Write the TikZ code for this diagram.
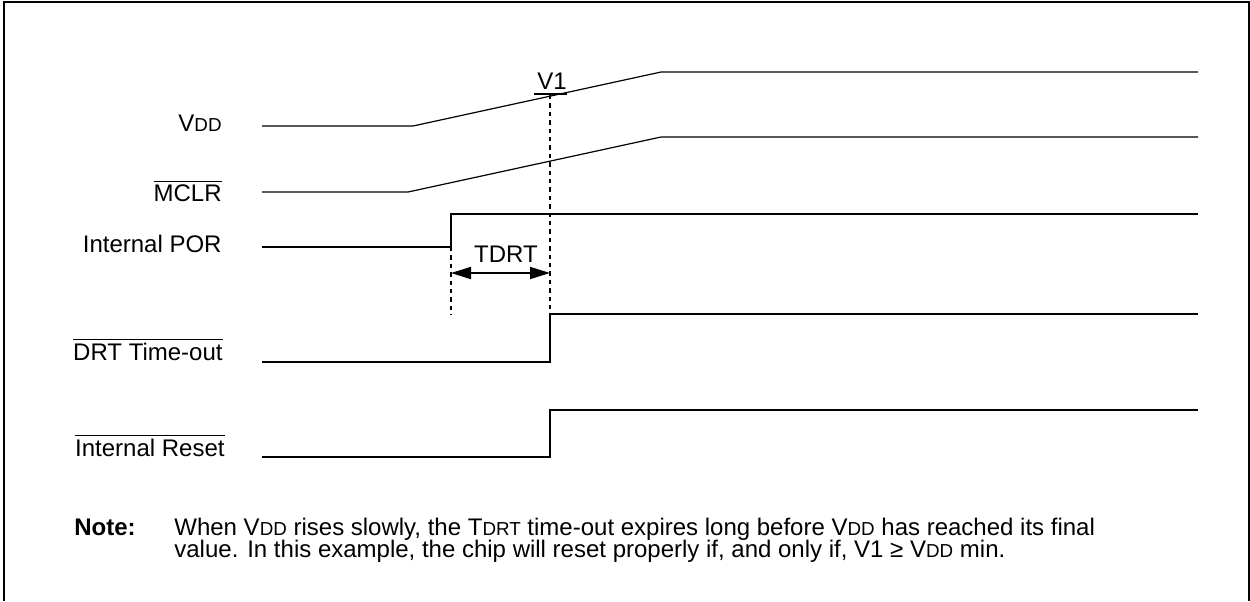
\documentclass[tikz,border=0pt]{standalone}
\usepackage{fontspec}
\setmainfont{Liberation Sans}
\usetikzlibrary{arrows.meta}
\newcommand{\smc}[1]{{\fontsize{9.4}{9.4}\selectfont #1}}
\newcommand{\ovl}[1]{$\overline{\mbox{#1}}$}

\begin{document}
\begin{tikzpicture}[x=0.5pt, y=-0.5pt, font=\fontsize{12}{14}\selectfont,
	thinwave/.style={line width=0.6pt},
	thickwave/.style={line width=0.85pt},
	guide/.style={line width=0.8pt, dash pattern=on 2.2pt off 2pt},
	lbl/.style={anchor=base east, inner sep=0pt}]
	\useasboundingbox (0,0) rectangle (1250,601);
	\draw [line width=1pt] (4,601) -- (4,1.5) -- (1248.5,1.5) -- (1248.5,601);
	
	\node [lbl] (vdd) at (222,131) {V\smc{DD}};
	\node [lbl] (mclr) at (222,201) {\ovl{MCLR}};
	\node [lbl] (por) at (222,252) {Internal POR};
	\node [lbl] (drt) at (223,360) {\ovl{DRT Time-out}};
	\node [lbl] (rst) at (225,456) {\ovl{Internal Reset}};
	
	\draw [thinwave] (262,126) -- (413,126) -- (661,72) -- (1198,72);
	\draw [thinwave] (262,192) -- (408,192) -- (661,137) -- (1198,137);
	\draw [thickwave] (262,247) -- (451,247) -- (451,214) -- (1198,214);
	\draw [thickwave] (262,362) -- (550,362) -- (550,314) -- (1198,314);
	\draw [thickwave] (262,457) -- (550,457) -- (550,410) -- (1198,410);
	
	\coordinate (v1) at (550,95);
	\draw [line width=0.85pt] (534,94) -- (567,94);
	\node [anchor=base, inner sep=0pt] (v1lbl) at (552,89) {V1};
	\draw [guide] (v1) -- (550,314);
	\draw [guide] (451,247) -- (451,315);
	
	\coordinate (ta) at (451,273);
	\coordinate (tb) at (550,273);
	\draw [line width=0.85pt, {Triangle[length=10pt,width=6pt]}-{Triangle[length=10pt,width=6pt]}] (ta) -- (tb);
	\node [anchor=base, inner sep=0pt] (tdrt) at (506,262) {TDRT};
	
	\node [anchor=base west, inner sep=0pt] (note) at (74,535) {\bfseries Note:};
	\node [anchor=base west, inner sep=0pt] (line1) at (174,535) {When V\smc{DD} rises slowly, the T\smc{DRT} time-out expires long before V\smc{DD} has reached its final};
	\node [anchor=base west, inner sep=0pt] (line2) at (174,557) {value. In this example, the chip will reset properly if, and only if, V1 ≥ V\smc{DD} min.};
\end{tikzpicture}
\end{document}
